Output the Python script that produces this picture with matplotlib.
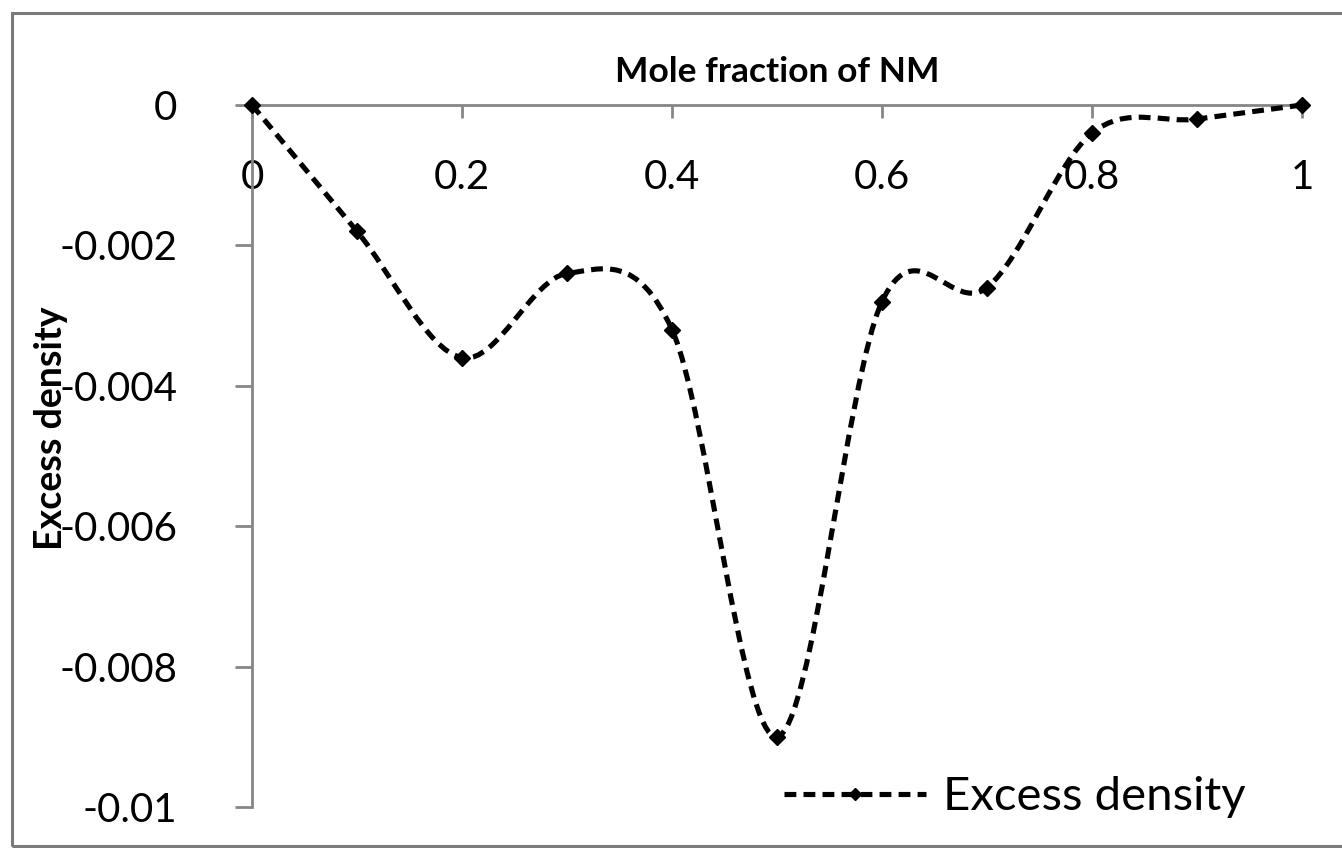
import matplotlib
matplotlib.use("Agg")
import matplotlib.pyplot as plt
import numpy as np
from matplotlib.path import Path
from matplotlib.patches import PathPatch, Rectangle
from matplotlib.lines import Line2D

# data
mole_fraction = [0.0, 0.1, 0.2, 0.3, 0.4, 0.5, 0.6, 0.7, 0.8, 0.9, 1.0]
excess_density = [0.0, -0.0018, -0.0036, -0.0024, -0.0032, -0.0090,
                  -0.0028, -0.0026, -0.0004, -0.0002, 0.0]
x_ticks = [0, 0.2, 0.4, 0.6, 0.8, 1]
x_ticklabels = ["0", "0.2", "0.4", "0.6", "0.8", "1"]
y_ticks = [0, -0.002, -0.004, -0.006, -0.008, -0.01]
y_ticklabels = ["0", "-0.002", "-0.004", "-0.006", "-0.008", "-0.01"]

plt.rcParams['font.family'] = ['Lato', 'DejaVu Sans']
axis_grey = '#868686'


def smooth_path(xs, ys):
    # excel-style smoothed line: bezier segments through every point
    pts = np.column_stack([xs, ys])
    n = len(pts)
    verts = [pts[0]]
    codes = [Path.MOVETO]
    for i in range(n - 1):
        p0 = pts[i - 1] if i > 0 else pts[i]
        p1 = pts[i]
        p2 = pts[i + 1]
        p3 = pts[i + 2] if i + 2 < n else pts[i + 1]
        c1 = p1 + (p2 - p0) / 6.0
        c2 = p2 - (p3 - p1) / 6.0
        verts += [c1, c2, p2]
        codes += [Path.CURVE4] * 3
    return Path(verts, codes)


fig = plt.figure(figsize=(13.42, 8.48), dpi=100)
ax = fig.add_axes([252 / 1342, 1 - 807 / 848, 1050 / 1342, 702 / 848])

line_style = dict(color='black', lw=3.7, ls=(0, (2.3, 1.4)))
curve = PathPatch(smooth_path(mole_fraction, excess_density), fill=False,
                  clip_on=False, zorder=3, capstyle='butt', **line_style)
ax.add_patch(curve)
ax.plot(mole_fraction, excess_density, ls='none', marker='D', ms=8,
        color='black', clip_on=False, zorder=4)

ax.set_xlim(0, 1)
ax.set_ylim(-0.01, 0)

for s in ['top', 'right']:
    ax.spines[s].set_visible(False)
ax.spines['bottom'].set_position(('data', 0))
ax.spines['bottom'].set_color(axis_grey)
ax.spines['left'].set_color(axis_grey)
ax.spines['bottom'].set_linewidth(2)
ax.spines['left'].set_linewidth(2)

ax.set_xticks(x_ticks)
ax.set_xticklabels(x_ticklabels)
ax.set_yticks(y_ticks)
ax.set_yticklabels(y_ticklabels)
ax.tick_params(axis='x', direction='out', length=9, width=2, color=axis_grey,
               pad=30, labelsize=29)
ax.tick_params(axis='y', direction='out', length=12, width=2, color=axis_grey,
               pad=42, labelsize=29)

ax.text(0.5, 1.047, "Mole fraction of NM", transform=ax.transAxes,
        ha='center', va='center', fontsize=25.5, fontweight='bold')
ax.set_ylabel("Excess density", fontsize=27, fontweight='bold')
ax.yaxis.set_label_coords(-0.175, 0.54)

handle = Line2D([], [], marker='D', ms=6, **line_style)
ax.legend([handle], ["Excess density"], loc='center left', frameon=False,
          bbox_to_anchor=(0.507, 0.014), fontsize=34, handlelength=3.0,
          handletextpad=0.36, borderpad=0, borderaxespad=0)

fig.patches.append(Rectangle((12 / 1342, 2 / 848), 1.2, 1 - 15 / 848,
                             transform=fig.transFigure, fill=False,
                             edgecolor='#7a7a7a', lw=2.2))

fig.savefig("out.png", dpi=100)
